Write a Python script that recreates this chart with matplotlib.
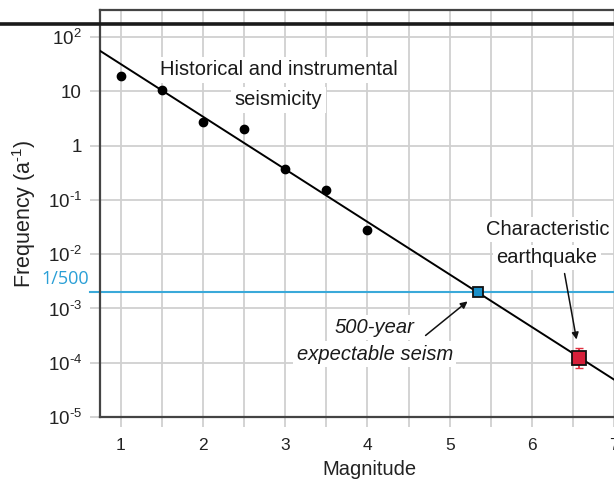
import matplotlib
matplotlib.use("Agg")
import matplotlib.pyplot as plt
from matplotlib.lines import Line2D
from matplotlib.ticker import FixedLocator, FixedFormatter, NullLocator

plt.rcParams['font.family'] = ['Liberation Sans', 'DejaVu Sans']
plt.rcParams['mathtext.fontset'] = 'custom'
plt.rcParams['mathtext.rm'] = 'Liberation Sans'
plt.rcParams['mathtext.it'] = 'Liberation Sans:italic'

# Data
obs_mag = [1.0, 1.5, 2.0, 2.5, 3.0, 3.5, 4.0]
obs_freq = [19.0, 10.4, 2.77, 2.05, 0.377, 0.153, 0.0277]
fit_mag = [0.75, 7.3]
fit_freq = [56.0, 2.48e-5]
ref_freq = 1 / 500
m500 = [5.34]
f500 = [0.002]
char_mag = [6.57]
char_freq = [1.24e-4]
char_err_lo = [1.24e-4 - 8.1e-5]
char_err_hi = [1.89e-4 - 1.24e-4]
xtick_vals = [1, 2, 3, 4, 5, 6, 7]
ytick_vals = [1e2, 1e1, 1, 1e-1, 1e-2, 1e-3, 1e-4, 1e-5]
ytick_labels = ['10$^{2}$', '10', '1', r'10$^{\text{-}1}$', r'10$^{\text{-}2}$',
                r'10$^{\text{-}3}$', r'10$^{\text{-}4}$', r'10$^{\text{-}5}$']

fig = plt.figure(figsize=(6.14, 4.8), dpi=100)
ax = fig.add_axes([100/614, 1-417/480, (7.3-0.75)*82.3/614, (417-10)/480])
ax.set_yscale('log')
ax.set_xlim(0.75, 7.3)
ax.set_ylim(1e-5, 10**2.5)

grid_c = '#d0d0d0'
xt = [1 + 0.5*i for i in range(13)]
ax.xaxis.set_major_locator(FixedLocator(xt))
ax.xaxis.set_major_formatter(FixedFormatter([str(int(v)) if v == int(v) else '' for v in xt]))
ax.yaxis.set_major_locator(FixedLocator(ytick_vals))
ax.yaxis.set_major_formatter(FixedFormatter(ytick_labels))
ax.yaxis.set_minor_locator(NullLocator())
ax.grid(True, color=grid_c, lw=1.3)
ax.tick_params(axis='both', which='major', color=grid_c, width=1.3, length=7,
               labelcolor='#222222')
ax.tick_params(axis='y', pad=6, labelsize=13.5)
ax.tick_params(axis='x', pad=8, labelsize=12.5)
for s in ax.spines.values():
    s.set_color('#444444')
    s.set_linewidth(1.6)
ax.set_axisbelow(True)

# reference line 1/500
ax.axhline(ref_freq, color='#3aa9d9', lw=1.5, zorder=2)
ax.plot([-0.018, 0], [ref_freq, ref_freq], transform=ax.get_yaxis_transform(),
        color='#3aa9d9', lw=1.5, clip_on=False)
ax.text(-0.02, ref_freq*1.17, '1/500', transform=ax.get_yaxis_transform(),
        ha='right', va='bottom', color='#2a9fd6', fontsize=13, family='Open Sans')

# text labels (behind the data, above the grid)
bbox = dict(facecolor='white', edgecolor='none', pad=2.5)
labels = [
    (2.92, 19.95, 'Historical and instrumental', 'normal'),
    (2.92, 5.59, 'seismicity', 'normal'),
    (4.09, 3.54e-4, '500-year', 'italic'),
    (4.09, 1.127e-4, 'expectable seism', 'italic'),
    (6.19, 0.0226, 'Characteristic', 'normal'),
    (6.18, 6.89e-3, 'earthquake', 'normal'),
]
for x, y, s, st in labels:
    ax.text(x, y, s, ha='center', va='baseline', fontsize=14.5, style=st,
            bbox=bbox, zorder=1.5, color='#1a1a1a')

# fit line
ax.plot(fit_mag, fit_freq, color='black', lw=1.4, zorder=3)
# observations
ax.plot(obs_mag, obs_freq, 'o', color='black', ms=6, zorder=4)
# 500 yr
ax.plot(m500, f500, 's', ms=7.5, mfc='#1a90c9', mec='#111111', mew=1.3, zorder=5)
# characteristic
ax.errorbar(char_mag, char_freq, yerr=[char_err_lo, char_err_hi], fmt='none',
            ecolor='#e03040', elinewidth=1.3, capsize=3, zorder=4)
ax.plot(char_mag, char_freq, 's', ms=9.5, mfc='#d6203a', mec='#111111', mew=1.3, zorder=5)

ax.annotate('', xy=(5.216, 1.35e-3), xytext=(4.706, 3.18e-4),
            arrowprops=dict(arrowstyle='-|>', color='#111111', lw=1.1,
                            mutation_scale=10, shrinkA=0, shrinkB=0), zorder=6)
ax.annotate('', xy=(6.54, 2.68e-4), xytext=(6.395, 4.4e-3),
            arrowprops=dict(arrowstyle='-|>', color='#111111', lw=1.1,
                            mutation_scale=10, shrinkA=0, shrinkB=0), zorder=6)

ax.set_xlabel('Magnitude', fontsize=14.5, color='#222222', labelpad=5)
ax.set_ylabel(r'Frequency (a$^{\text{-}1}$)', fontsize=15.5, color='#222222', labelpad=7)

# thick top line
fig.add_artist(Line2D([0, 1], [1-24/480, 1-24/480], color='#1a1a1a', lw=2.6,
                      transform=fig.transFigure))

fig.savefig('out.png', dpi=100)
